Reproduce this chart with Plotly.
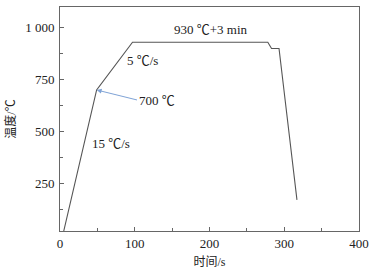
import plotly.graph_objects as go

time_s = [5, 49, 97, 278, 283, 293, 317]
temp_c = [20, 700, 930, 930, 900, 900, 170]
y_ticks = [250, 500, 750, 1000]
y_tick_labels = ["250", "500", "750", "1 000"]
x_ticks = [0, 100, 200, 300, 400]

FONT = "Liberation Serif, Noto Sans CJK SC, serif"

fig = go.Figure()
fig.add_trace(go.Scatter(x=time_s, y=temp_c, mode="lines",
                         line=dict(color="#555555", width=1.1), hoverinfo="skip"))

fig.add_annotation(x=202, y=990, text="930 ℃+3 min", showarrow=False,
                   font=dict(size=13, family=FONT, color="#222"))
fig.add_annotation(x=110, y=840, text="5 ℃/s", showarrow=False,
                   font=dict(size=13, family=FONT, color="#222"))
fig.add_annotation(x=49, y=700, ax=105, ay=650, axref="x", ayref="y",
                   text="", showarrow=True, arrowhead=2, arrowsize=1,
                   arrowwidth=1, arrowcolor="#7fa3d6")
fig.add_annotation(x=130, y=651, text="700 ℃", showarrow=False,
                   font=dict(size=13, family=FONT, color="#222"))
fig.add_annotation(x=68, y=440, text="15 ℃/s", showarrow=False,
                   font=dict(size=13, family=FONT, color="#222"))

axis_common = dict(showgrid=False, zeroline=False, showline=True,
                   linecolor="#666", linewidth=1, mirror=True,
                   ticks="inside", ticklen=4, tickcolor="#666",
                   tickfont=dict(size=13, family=FONT, color="#222"))

fig.update_xaxes(range=[0, 400], tickvals=x_ticks,
                 minor=dict(ticks="inside", ticklen=3, tickcolor="#666", dtick=50),
                 title=dict(text="时间/s", font=dict(size=12, family=FONT, color="#222"), standoff=8),
                 **axis_common)
fig.update_yaxes(range=[20, 1100], tickvals=y_ticks, ticktext=y_tick_labels,
                 minor=dict(ticks="inside", ticklen=3, tickcolor="#666",
                            tickvals=[125, 375, 625, 875]),
                 ticklabelstandoff=2,
                 title=dict(text="温度/℃", font=dict(size=12, family=FONT, color="#222"), standoff=6),
                 **axis_common)

fig.update_layout(width=375, height=273, margin=dict(l=60, r=14, t=6, b=42),
                  plot_bgcolor="white", paper_bgcolor="white", showlegend=False)

fig.write_html("out.html", config={"displayModeBar": False},
               post_script="document.body.style.margin='0';document.body.style.padding='0';")
